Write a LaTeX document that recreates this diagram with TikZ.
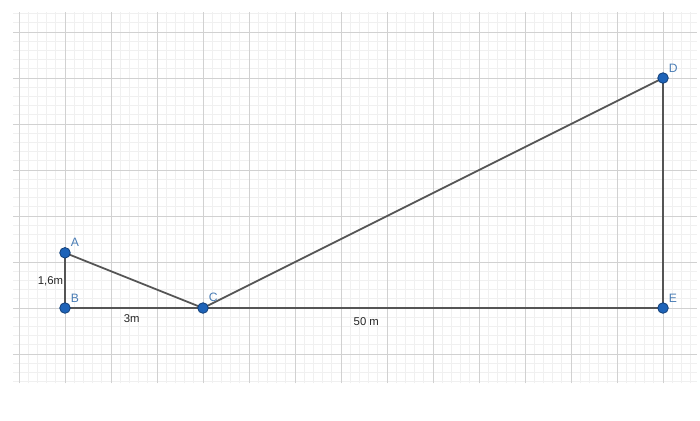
\documentclass[tikz,border=0pt]{standalone}
\usepackage{fontspec}
\setmainfont{Liberation Sans}
\usetikzlibrary{positioning}
\definecolor{ptblue}{HTML}{1E63B8}
\definecolor{ptedge}{HTML}{123F78}
\definecolor{lblblue}{HTML}{4A7DB5}
\definecolor{segray}{HTML}{555555}
\tikzset{
  minorgrid/.style={draw=black!6, line width=0.4pt},
  majorgrid/.style={draw=black!18, line width=0.6pt},
  segment/.style={draw=segray, line width=1.1pt},
  pt/.style={circle, fill=ptblue, draw=ptedge, line width=0.5pt, inner sep=0pt, minimum size=2.3mm},
  ptlabel/.style={text=lblblue, font=\fontsize{7.5}{9}\selectfont},
  measure/.style={text=black!85, font=\fontsize{7}{8}\selectfont}
}
\begin{document}
\begin{tikzpicture}
\useasboundingbox (-1.413,-2.435) rectangle (13.804,6.696);
\fill[white] (-1.413,-2.435) rectangle (13.804,6.696);
\draw[minorgrid, step=0.2] (-1.13,-1.63) grid (13.74,6.43);
\draw[majorgrid, step=1] (-1.13,-1.63) grid (13.74,6.43);

\coordinate (A) at (0,1.2);
\coordinate (B) at (0,0);
\coordinate (C) at (3,0);
\coordinate (D) at (13,5);
\coordinate (E) at (13,0);

\draw[segment] (A) -- (B) -- (C) -- (A);
\draw[segment] (C) -- (D) -- (E) -- (C);

\foreach \p in {A,B,C,D,E}
  \node[pt, label={[ptlabel, anchor=south west, inner sep=1pt]45:\p}] (n\p) at (\p) {};

\node[measure, anchor=east, inner sep=1pt] (hAB) at (0,0.58) {1,6m};
\node[measure] (dBC) at (1.45,-0.22) {3m};
\node[measure] (dCE) at (6.55,-0.29) {50 m};
\end{tikzpicture}
\end{document}
